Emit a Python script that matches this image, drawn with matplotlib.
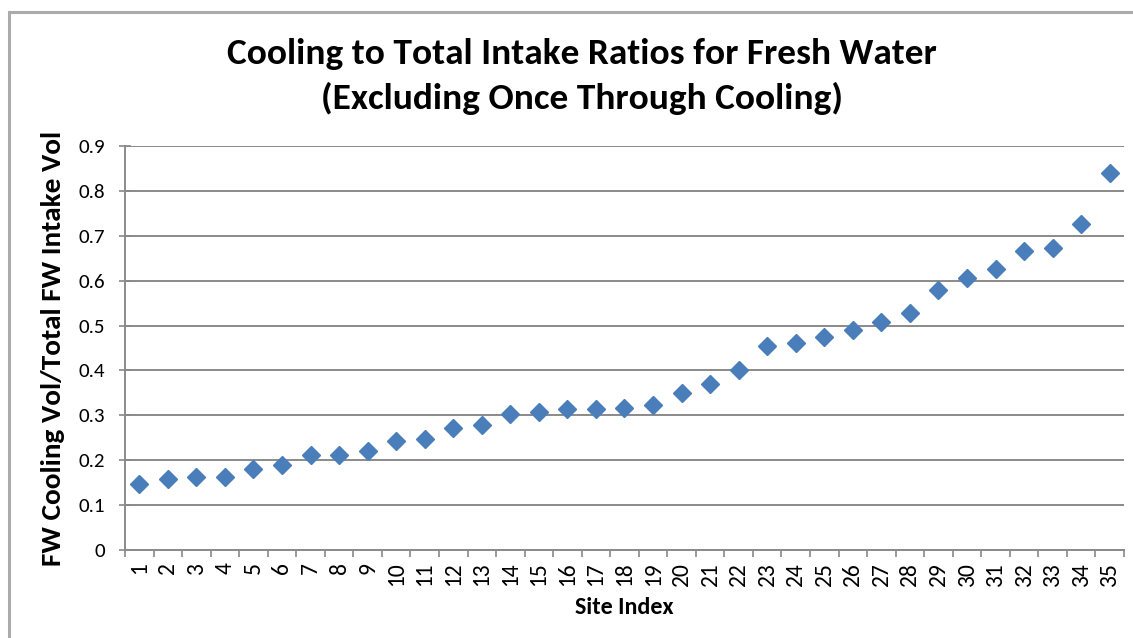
import matplotlib
matplotlib.use("Agg")
import matplotlib.pyplot as plt
import numpy as np
from matplotlib.patches import Rectangle
from matplotlib import font_manager as fm

sites = list(range(1, 36))
ratios = [0.147, 0.158, 0.163, 0.163, 0.180, 0.189, 0.212, 0.212, 0.220, 0.243,
          0.247, 0.272, 0.278, 0.303, 0.307, 0.314, 0.314, 0.316, 0.323, 0.350,
          0.370, 0.401, 0.454, 0.461, 0.474, 0.490, 0.508, 0.528, 0.579, 0.606,
          0.626, 0.666, 0.673, 0.726, 0.840]
yticks = [0, 0.1, 0.2, 0.3, 0.4, 0.5, 0.6, 0.7, 0.8, 0.9]
title1 = "Cooling to Total Intake Ratios for Fresh Water"
title2 = "(Excluding Once Through Cooling)"
xlabel = "Site Index"
ylabel = "FW Cooling Vol/Total FW Intake Vol"


def pick_font(cands):
    for c in cands:
        try:
            fm.findfont(fm.FontProperties(family=c), fallback_to_default=False)
            return c
        except Exception:
            pass
    return 'DejaVu Sans'


FONT = pick_font(['Carlito', 'Open Sans', 'Liberation Sans'])
plt.rcParams['font.family'] = [FONT, 'DejaVu Sans']

W, H = 1133, 638
fig = plt.figure(figsize=(W / 100, H / 100), dpi=100)
fig.patches.append(Rectangle((9 / W, -0.1), 1.2, (H - 12) / H + 0.1,
                             transform=fig.transFigure, fill=False,
                             edgecolor='#ababab', lw=2.2))
ax = fig.add_axes([125 / W, 1 - 550 / H, (1124 - 125) / W, (550 - 146) / H])

ax.plot(sites, ratios, linestyle='none', marker='D', markersize=9,
        color='#4A7EBB', markeredgecolor='#4A7EBB', zorder=3)

ax.set_xlim(0.5, 35.5)
ax.set_ylim(0, 0.9)
ax.set_yticks(yticks)
ylabs = ax.set_yticklabels([f"{v:g}" for v in yticks])
ax.set_xticks(sites)
xlabs = ax.set_xticklabels([str(s) for s in sites], rotation=90)
ax.set_xticks(np.arange(0.5, 36, 1), minor=True)
ax.tick_params(axis='x', which='major', length=0, pad=9)
ax.tick_params(axis='x', which='minor', length=5, color='#888888', width=1.2)
ax.tick_params(axis='y', length=9, direction='inout', color='#888888',
               width=1.2, pad=10)

ax.grid(axis='y', color='#8a8a8a', lw=1.4)
ax.set_axisbelow(True)
for s in ['top', 'right']:
    ax.spines[s].set_visible(False)
for s in ['left', 'bottom']:
    ax.spines[s].set_color('#8a8a8a')
    ax.spines[s].set_linewidth(1.4)

t1 = fig.text(582 / W, 1 - 64 / H, title1, ha='center', va='baseline',
              fontsize=24, fontweight='bold')
t2 = fig.text(582 / W, 1 - 109 / H, title2, ha='center', va='baseline',
              fontsize=24, fontweight='bold')
yl = fig.text(53 / W, 1 - 348 / H, ylabel, rotation=90, ha='center',
              va='center', fontsize=18, fontweight='bold')
xl = fig.text(624 / W, 1 - 607 / H, xlabel, ha='center', va='center',
              fontsize=13, fontweight='bold')
for t in list(ylabs) + list(xlabs):
    t.set_fontsize(12)

# fit text sizes to the measured extents of the reference
r = fig.canvas.get_renderer()


def fit(t, target, dim='w'):
    bb = t.get_window_extent(r)
    cur = bb.width if dim == 'w' else bb.height
    t.set_fontsize(t.get_fontsize() * target / cur)


fit(t1, 709)
t2.set_fontsize(t1.get_fontsize())
fit(yl, 435, 'h')
fit(xl, 98)
bb = ylabs[-1].get_window_extent(r)
tick_fs = 12 * 26.5 / bb.width
for t in ylabs:
    t.set_fontsize(tick_fs)
for t in xlabs:
    t.set_fontsize(tick_fs * 1.12)

fig.savefig("out.png", dpi=100)
